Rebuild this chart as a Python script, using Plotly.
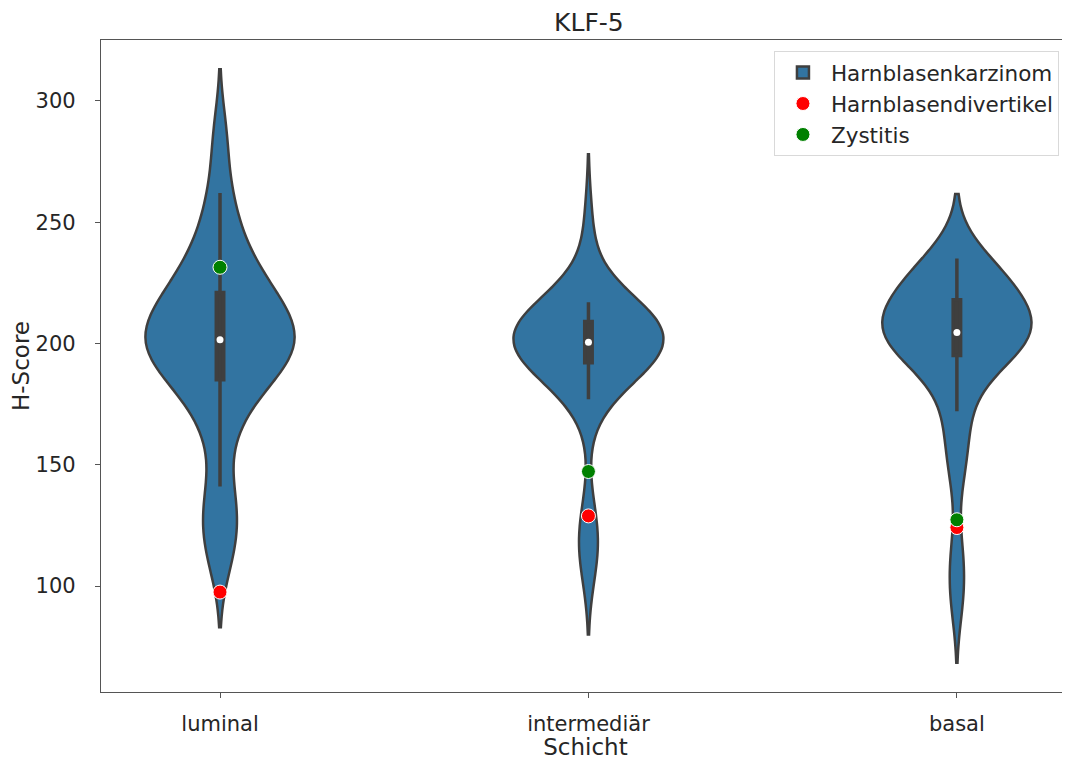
import numpy as np
import plotly.graph_objects as go

# layers on the x axis
categories = ["luminal", "intermediär", "basal"]

# H-Scores of the carcinoma samples per layer
luminal = [111, 122, 130, 141, 163, 172, 180, 185, 187, 190,
           193, 196, 198, 200, 201, 202, 204, 206, 209, 212,
           215, 218, 221, 224, 228, 234, 240, 250, 262, 285]
intermediaer = [110, 119, 125, 177, 186, 189, 191, 192, 193, 194,
                196, 197, 199, 200, 200, 201, 202, 203, 204, 205,
                206, 208, 209, 210, 211, 212, 213, 215, 217, 248]
basal = [95, 112, 148, 160, 172, 182, 190, 195, 198, 199,
         200, 201, 202, 204, 204, 205, 206, 208, 210, 212,
         214, 216, 218, 222, 224, 226, 228, 230, 232, 235]

# kde bandwidth per layer
bandwidths = [14.0, 15.0, 13.3]

# single cases
divertikel = [97.5, 128.9, 124.1]
zystitis = [231.4, 147.2, 127.3]

VIOLIN_FILL = "#3274a1"
DARK = "#3f3f3f"
TEXT = "#262626"
AXIS = "#555555"

fig = go.Figure()

groups = [luminal, intermediaer, basal]
for i, (cat, vals, bw) in enumerate(zip(categories, groups, bandwidths)):
    fig.add_trace(
        go.Violin(
            x=[cat] * len(vals),
            y=vals,
            name="Harnblasenkarzinom",
            legendgroup="karzinom",
            showlegend=(i == 0),
            bandwidth=bw,
            spanmode="soft",
            width=0.405,
            scalemode="width",
            fillcolor=VIOLIN_FILL,
            opacity=1,
            line=dict(color=DARK, width=2.5),
            points=False,
            box=dict(
                visible=True,
                width=0.05,
                fillcolor=DARK,
                line=dict(color=DARK, width=3.5),
            ),
            meanline=dict(visible=False),
            hoveron="violins",
        )
    )

# white median dots like seaborn's inner box
fig.add_trace(
    go.Scatter(
        x=categories,
        y=[float(np.median(v)) for v in groups],
        mode="markers",
        marker=dict(color="white", size=7),
        showlegend=False,
        hoverinfo="skip",
    )
)

fig.add_trace(
    go.Scatter(
        x=categories,
        y=divertikel,
        mode="markers",
        name="Harnblasendivertikel",
        marker=dict(color="red", size=14, line=dict(color="white", width=1)),
    )
)
fig.add_trace(
    go.Scatter(
        x=categories,
        y=zystitis,
        mode="markers",
        name="Zystitis",
        marker=dict(color="green", size=14, line=dict(color="white", width=1)),
    )
)

# the page body adds 8px, so the figure is 8px smaller than the window
fig.update_layout(
    width=1062,
    height=752,
    autosize=False,
    margin=dict(l=93, r=0, t=32, b=68),
    plot_bgcolor="white",
    paper_bgcolor="white",
    violinmode="overlay",
    font=dict(family="DejaVu Sans", size=21, color=TEXT),
    title=dict(
        text="KLF-5",
        xref="container",
        yref="container",
        x=0.547,
        xanchor="center",
        y=0.981,
        yanchor="middle",
        font=dict(size=25, color=TEXT),
    ),
    showlegend=True,
    legend=dict(
        x=0.9886,
        y=0.983,
        xanchor="right",
        yanchor="top",
        bgcolor="white",
        bordercolor="#d9d9d9",
        borderwidth=1,
        font=dict(size=21.5, color=TEXT),
        traceorder="normal",
        itemwidth=46,
    ),
)

fig.update_xaxes(
    type="category",
    categoryorder="array",
    categoryarray=categories,
    range=[-0.323, 2.307],
    title=dict(text="Schicht", font=dict(size=23, color=TEXT), standoff=1),
    automargin=False,
    showline=True,
    mirror=True,
    linecolor=AXIS,
    linewidth=1.3,
    ticks="outside",
    ticklen=5,
    tickwidth=1.3,
    tickcolor=AXIS,
    ticklabelstandoff=8,
    showgrid=False,
    zeroline=False,
)

fig.update_yaxes(
    range=[56.3, 325.1],
    tickvals=[100, 150, 200, 250, 300],
    title=dict(text="H-Score", font=dict(size=23, color=TEXT), standoff=6),
    automargin=False,
    showline=True,
    linecolor=AXIS,
    linewidth=1.3,
    ticks="outside",
    ticklen=5,
    tickwidth=1.3,
    tickcolor=AXIS,
    ticklabelstandoff=15,
    showgrid=False,
    zeroline=False,
)

fig.write_html("out.html")
